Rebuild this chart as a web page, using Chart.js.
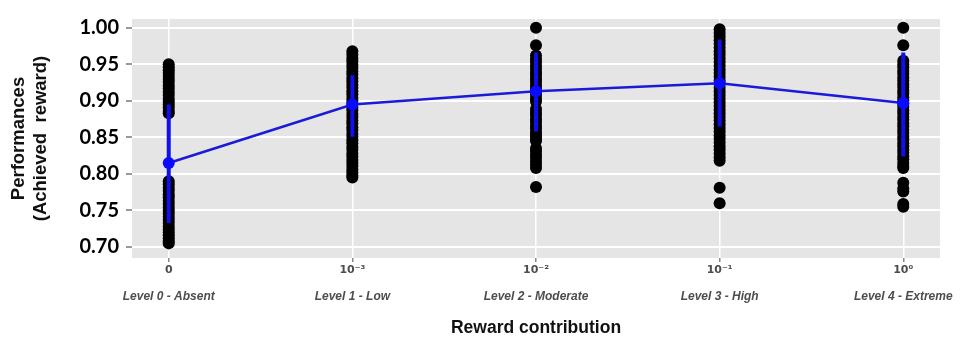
<!DOCTYPE html>
<html>
<head>
<meta charset="utf-8">
<script src="https://cdn.jsdelivr.net/npm/chart.js@4.4.1/dist/chart.umd.min.js"></script>
<style>
  html, body { margin: 0; padding: 0; background: #fff; }
  #wrap { position: relative; width: 978px; height: 343px; }
</style>
</head>
<body>
<div id="wrap"><canvas id="chart"></canvas></div>
<script>
// categories (x positions 0..4)
const exponentLabels = ['0', '10⁻³', '10⁻²', '10⁻¹', '10⁰'];
const levelLabels = ['Level 0 - Absent', 'Level 1 - Low', 'Level 2 - Moderate', 'Level 3 - High', 'Level 4 - Extreme'];

// individual runs
const level0 = [0.950, 0.946, 0.942, 0.938, 0.934, 0.930, 0.926, 0.921, 0.917, 0.912, 0.908, 0.903, 0.899, 0.895, 0.891, 0.886, 0.883,
  0.790, 0.786, 0.781, 0.777, 0.772, 0.768, 0.763, 0.759, 0.754, 0.750, 0.746, 0.741, 0.737, 0.733, 0.728, 0.724, 0.720, 0.716, 0.712, 0.708, 0.705];
const level1 = [0.968, 0.963, 0.958, 0.954, 0.949, 0.945, 0.940, 0.936, 0.931, 0.927, 0.922, 0.918, 0.913, 0.909, 0.904, 0.900, 0.896, 0.891,
  0.887, 0.882, 0.878, 0.873, 0.869, 0.864, 0.860, 0.855, 0.851, 0.846, 0.842, 0.837, 0.833, 0.828, 0.824, 0.819, 0.815, 0.811, 0.806, 0.802, 0.798, 0.795];
const level2 = [1.000, 0.976, 0.962, 0.957, 0.953, 0.948, 0.944, 0.939, 0.935, 0.930, 0.926, 0.921, 0.917, 0.912, 0.908, 0.903, 0.899,
  0.889, 0.884, 0.880, 0.875, 0.871, 0.866, 0.862, 0.857, 0.853, 0.849, 0.845, 0.835, 0.831, 0.826, 0.822, 0.817, 0.813, 0.808, 0.782];
const level3 = [0.998, 0.993, 0.988, 0.983, 0.978, 0.973, 0.968, 0.963, 0.958, 0.953, 0.948, 0.943, 0.938, 0.933, 0.928, 0.923, 0.918, 0.913,
  0.908, 0.903, 0.898, 0.893, 0.888, 0.883, 0.878, 0.873, 0.868, 0.863, 0.858, 0.853, 0.848, 0.843, 0.838, 0.833, 0.828, 0.823, 0.818, 0.781, 0.760];
const level4 = [1.000, 0.976, 0.955, 0.950, 0.946, 0.941, 0.937, 0.932, 0.928, 0.923, 0.919, 0.914, 0.910, 0.905, 0.901, 0.896, 0.892, 0.887,
  0.883, 0.878, 0.874, 0.869, 0.865, 0.860, 0.856, 0.851, 0.847, 0.842, 0.838, 0.833, 0.829, 0.824, 0.820, 0.815, 0.811, 0.808, 0.788, 0.780, 0.776, 0.759, 0.755];

// mean and spread per level
const means = [0.815, 0.895, 0.913, 0.924, 0.897];
const barLow = [0.733, 0.851, 0.858, 0.865, 0.824];
const barHigh = [0.895, 0.935, 0.966, 0.984, 0.966];

const yTicks = [0.70, 0.75, 0.80, 0.85, 0.90, 0.95, 1.00];

const runs = [level0, level1, level2, level3, level4];
const runPoints = [];
runs.forEach((vals, i) => vals.forEach(v => runPoints.push({ x: i, y: v })));

const meanPoints = means.map((m, i) => ({ x: i, y: m }));

const barPoints = [];
barLow.forEach((lo, i) => {
  barPoints.push({ x: i, y: lo }, { x: i, y: barHigh[i] }, { x: i, y: null });
});

const panelBg = {
  id: 'panelBg',
  beforeDraw(chart) {
    const { ctx, chartArea: a } = chart;
    ctx.save();
    ctx.fillStyle = '#e5e5e5';
    ctx.fillRect(a.left, a.top, a.right - a.left, a.bottom - a.top);
    ctx.restore();
  }
};

const catTicks = scale => { scale.ticks = exponentLabels.map((_, i) => ({ value: i })); };

new Chart(document.getElementById('chart'), {
  type: 'scatter',
  data: {
    datasets: [
      {
        type: 'line',
        data: meanPoints,
        borderColor: '#1a1ad8',
        borderWidth: 2.5,
        backgroundColor: '#0a0aff',
        pointRadius: 6,
        pointBorderWidth: 0,
        tension: 0,
      },
      {
        type: 'line',
        data: barPoints,
        borderColor: '#1010ee',
        borderWidth: 4,
        pointRadius: 0,
        spanGaps: false,
      },
      {
        data: runPoints,
        backgroundColor: '#000',
        pointRadius: 6,
        pointBorderWidth: 0,
      },
    ],
  },
  options: {
    responsive: true,
    maintainAspectRatio: false,
    animation: false,
    layout: { padding: { top: 15, right: 38, left: 0, bottom: 0 } },
    plugins: {
      legend: { display: false },
      tooltip: { enabled: false },
    },
    scales: {
      x: {
        type: 'linear',
        min: -0.2,
        max: 4.2,
        afterBuildTicks: catTicks,
        afterFit: s => { s.height = 22; },
        grid: { color: '#ffffff', lineWidth: 1.5, tickColor: '#888', tickLength: 4 },
        border: { display: false },
        ticks: {
          color: '#4d4d4d',
          font: { family: 'DejaVu Sans', size: 11, weight: 'bold' },
          padding: 2,
          maxRotation: 0,
          callback: v => exponentLabels[v],
        },
      },
      x2: {
        type: 'linear',
        position: 'bottom',
        min: -0.2,
        max: 4.2,
        afterBuildTicks: catTicks,
        afterFit: s => { s.height = 63; },
        grid: { display: false },
        border: { display: false },
        ticks: {
          color: '#4d4d4d',
          font: { family: 'Liberation Sans', size: 12, weight: 'bold', style: 'italic' },
          padding: 1,
          maxRotation: 0,
          callback: v => levelLabels[v],
        },
        title: {
          display: true,
          text: 'Reward contribution',
          color: '#111',
          font: { family: 'Liberation Sans', size: 17.5, weight: 'bold' },
          padding: { top: 0, bottom: 4 },
        },
      },
      y: {
        min: 0.685,
        max: 1.012,
        afterBuildTicks: s => { s.ticks = yTicks.map(v => ({ value: v })); },
        afterFit: s => { s.width = 132; },
        grid: { color: '#ffffff', lineWidth: 2, tickColor: '#999', tickLength: 6 },
        border: { display: false },
        ticks: {
          color: '#000',
          font: { family: 'Lato', size: 20, weight: 'bold' },
          padding: 7,
          callback: v => v.toFixed(2),
        },
        title: {
          display: true,
          text: ['Performances', '(Achieved  reward)'],
          color: '#111',
          font: { family: 'Liberation Sans', size: 18.5, weight: 'bold', lineHeight: 1.2 },
          padding: { top: 8, bottom: 0 },
        },
      },
    },
  },
  plugins: [panelBg],
});
</script>
</body>
</html>
